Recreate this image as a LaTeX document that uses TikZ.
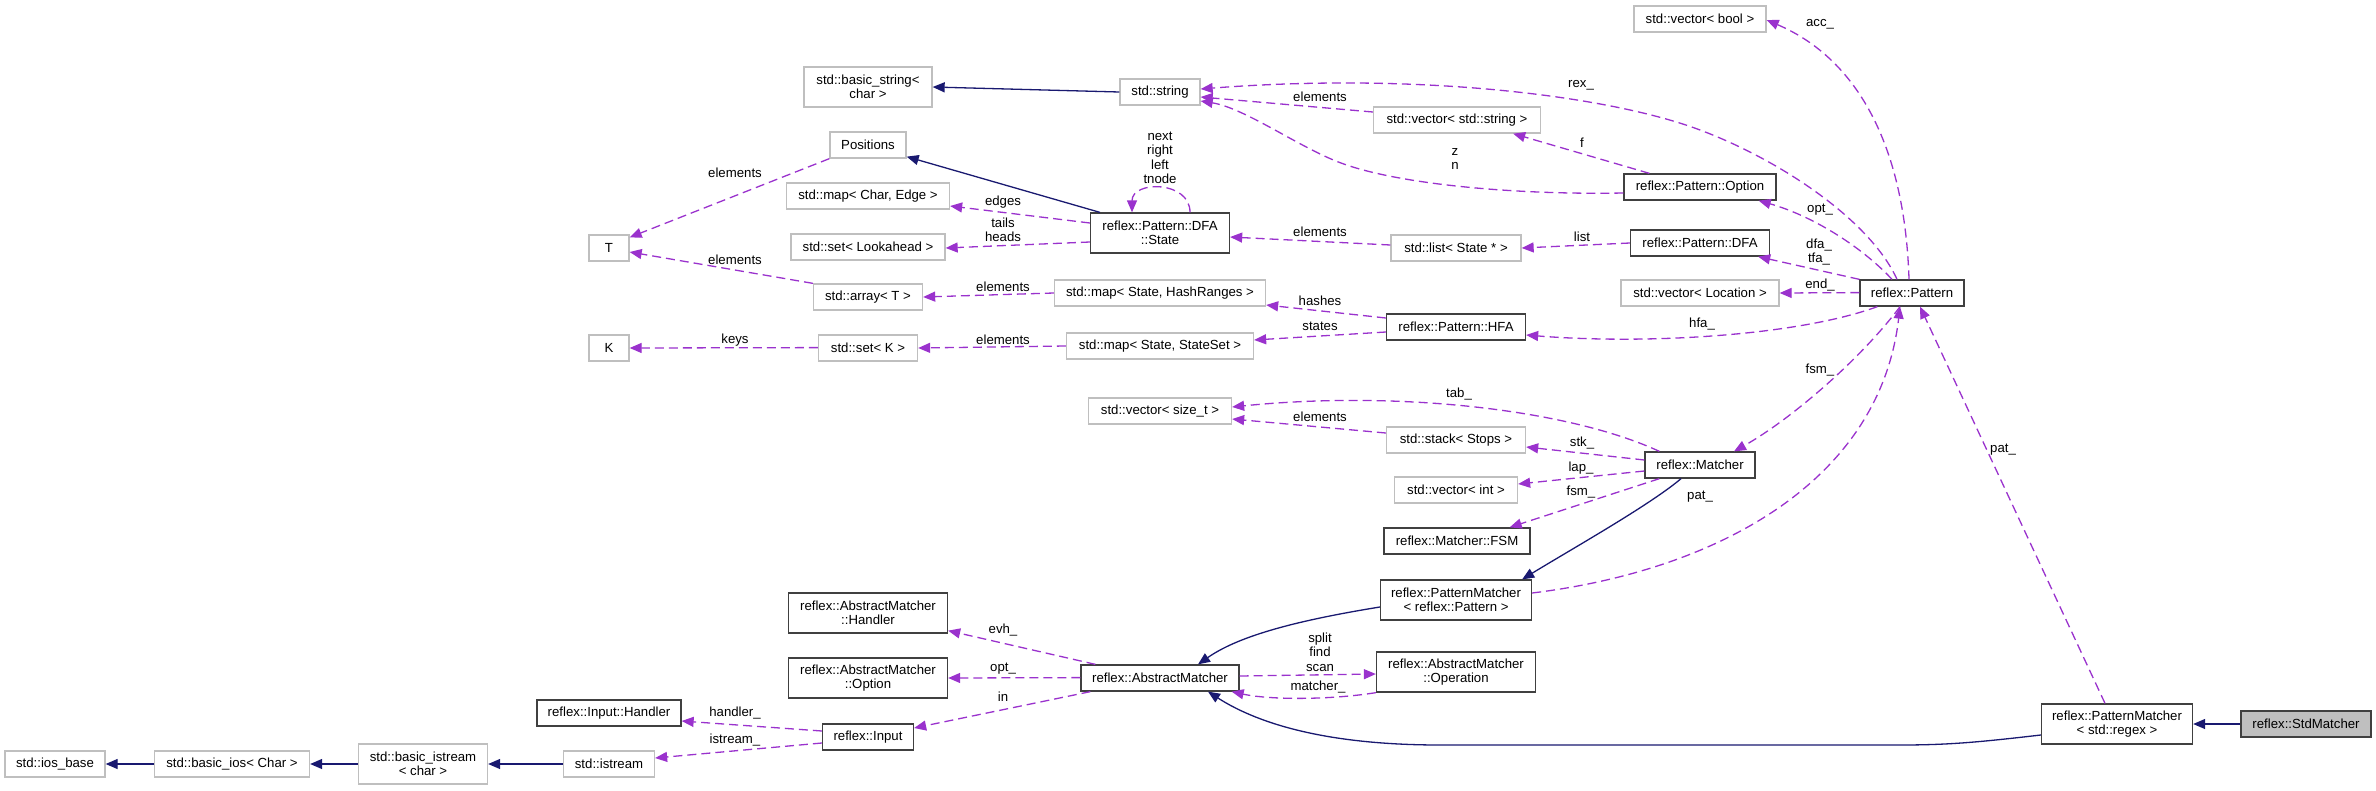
\documentclass[tikz,border=0pt]{standalone}
\usepackage{fontspec}
\setmainfont{Liberation Sans}
\usetikzlibrary{arrows.meta}
\definecolor{usec}{RGB}{154,50,205}
\definecolor{inhc}{RGB}{25,25,112}
\definecolor{gbord}{RGB}{191,191,191}
\definecolor{dbord}{RGB}{64,64,64}
\begin{document}
\begin{tikzpicture}[x=1pt,y=-1pt,
  box/.style={draw, line width=1.3pt, minimum height=26pt, inner sep=0pt, font=\fontsize{13.2}{14}\selectfont, align=center},
  ext/.style={box, draw=gbord},
  doc/.style={box, draw=dbord},
  tall/.style={minimum height=40pt},
  use/.style={draw=usec, line width=1.3pt, dash pattern=on 9pt off 5pt, -{Triangle[length=12pt,width=10pt,fill=usec]}},
  inh/.style={draw=inhc, line width=1.3pt, -{Triangle[length=12pt,width=10pt,fill=inhc]}},
  lbl/.style={font=\fontsize{13.2}{14.5}\selectfont, inner sep=0pt, align=center}
]
\useasboundingbox (0,0) rectangle (2376,790);
% nodes
\node[ext, tall, minimum width=128pt] (bstr) at (868,87) {std::basic\_string<\\char >};
\node[ext, minimum width=80pt] (str) at (1160,92) {std::string};
\node[ext, minimum width=167pt] (vstr) at (1457,120) {std::vector< std::string >};
\node[ext, minimum width=132pt] (vbool) at (1700,19) {std::vector< bool >};
\node[ext, minimum width=76pt] (pos) at (868,145) {Positions};
\node[ext, minimum width=163pt] (mce) at (868,196) {std::map< Char, Edge >};
\node[ext, minimum width=154pt] (sla) at (868,247) {std::set< Lookahead >};
\node[doc, tall, minimum width=139pt] (st) at (1160,233) {reflex::Pattern::DFA\\::State};
\node[ext, minimum width=130pt] (lst) at (1456,248) {std::list< State * >};
\node[ext, minimum width=109pt] (arr) at (868,297) {std::array< T >};
\node[ext, minimum width=211pt] (mhr) at (1160,293) {std::map< State, HashRanges >};
\node[ext, minimum width=99pt] (setk) at (868,348) {std::set< K >};
\node[ext, minimum width=187pt] (mss) at (1160,346) {std::map< State, StateSet >};
\node[doc, minimum width=139pt] (hfa) at (1456,327) {reflex::Pattern::HFA};
\node[ext, minimum width=40pt] (T) at (609,248) {T};
\node[ext, minimum width=40pt] (K) at (609,348) {K};
\node[doc, minimum width=152pt] (popt) at (1700,187) {reflex::Pattern::Option};
\node[doc, minimum width=139pt] (pdfa) at (1700,243) {reflex::Pattern::DFA};
\node[ext, minimum width=158pt] (vloc) at (1700,293) {std::vector< Location >};
\node[doc, minimum width=104pt] (pat) at (1912,293) {reflex::Pattern};
\node[ext, minimum width=143pt] (vst) at (1160,411) {std::vector< size\_t >};
\node[ext, minimum width=139pt] (stk) at (1456,440) {std::stack< Stops >};
\node[ext, minimum width=123pt] (vint) at (1456,490) {std::vector< int >};
\node[doc, minimum width=146pt] (fsm) at (1457,541) {reflex::Matcher::FSM};
\node[doc, minimum width=110pt] (matcher) at (1700,465) {reflex::Matcher};
\node[doc, tall, minimum width=151pt] (pmp) at (1456,600) {reflex::PatternMatcher\\< reflex::Pattern >};
\node[doc, tall, minimum width=159pt] (op) at (1456,672) {reflex::AbstractMatcher\\::Operation};
\node[doc, minimum width=158pt] (am) at (1160,678) {reflex::AbstractMatcher};
\node[doc, tall, minimum width=159pt] (amh) at (868,613) {reflex::AbstractMatcher\\::Handler};
\node[doc, tall, minimum width=159pt] (amo) at (868,678) {reflex::AbstractMatcher\\::Option};
\node[doc, minimum width=91pt] (inp) at (868,737) {reflex::Input};
\node[doc, minimum width=144pt] (ih) at (609,713) {reflex::Input::Handler};
\node[ext, minimum width=100pt] (ios) at (55,764) {std::ios\_base};
\node[ext, minimum width=155pt] (bios) at (232,764) {std::basic\_ios< Char >};
\node[ext, tall, minimum width=129pt] (bis) at (423,764) {std::basic\_istream\\< char >};
\node[ext, minimum width=91pt] (is) at (609,764) {std::istream};
\node[doc, tall, minimum width=151pt] (pmr) at (2117,724) {reflex::PatternMatcher\\< std::regex >};
\node[doc, fill=gbord, minimum width=130pt] (sm) at (2306,724) {reflex::StdMatcher};
% edges
\draw[inh] (str.west) -- (bstr.east);
\draw[inh] ([xshift=10pt]st.north west) -- ([yshift=2pt]pos.south east);
\draw[use] ([yshift=10pt]st.west) -- ([yshift=-10pt]mce.east);
\draw[use] ([yshift=-9pt]st.west) -- ([yshift=-1pt]sla.east);
\draw[use] ([xshift=30pt]st.north) .. controls +(0,-32) and +(0,-32) .. ([xshift=-28pt]st.north);
\draw[use] ([yshift=3pt]lst.west) -- ([yshift=-4pt]st.east);
\draw[use] (pos.south west) -- ([yshift=-3pt]T.north east);
\draw[use] (arr.north west) -- ([yshift=-4pt]T.east);
\draw[use] ([yshift=0.4pt]setk.west) -- (K.east);
\draw[use] (mhr.west) -- (arr.east);
\draw[use] (mss.west) -- (setk.east);
\draw[use] ([yshift=9pt]hfa.west) -- ([yshift=-12pt]mhr.east);
\draw[use] ([yshift=-5pt]hfa.west) -- ([yshift=6pt]mss.east);
\draw[use] ([yshift=8pt]vstr.west) -- ([yshift=-5pt]str.east);
\draw[use] ([yshift=-6pt]popt.west) .. controls (1520,195) and (1400,185) .. (1341,163) .. controls (1300,148) and (1245,108) .. ([yshift=-9pt]str.east);
\draw[use] ([xshift=26pt]popt.north west) -- ([xshift=-28pt]vstr.south east);
\draw[use] ([xshift=-15pt]pat.north) .. controls (1870,220) and (1780,160) .. (1700,130) .. controls (1610,96) and (1420,72) .. ([yshift=3pt]str.east);
\draw[use] ([xshift=-3pt]pat.north) .. controls (1905,150) and (1860,60) .. ([yshift=-1pt]vbool.east);
\draw[use] ([xshift=-20pt]pat.north) .. controls (1860,245) and (1810,215) .. ([xshift=-18pt]popt.south east);
\draw[use] (pat.north west) -- ([xshift=-12pt]pdfa.south east);
\draw[use] ([yshift=0.4pt]pat.west) -- (vloc.east);
\draw[use] (pdfa.west) -- (lst.east);
\draw[use] ([xshift=18pt]pat.south west) .. controls (1800,335) and (1650,345) .. ([yshift=-8pt]hfa.east);
\draw[use] ([xshift=-12pt]pat.south) .. controls (1860,360) and (1790,420) .. ([xshift=34pt]matcher.north);
\draw[use] ([xshift=15pt]matcher.north west) .. controls (1570,410) and (1400,390) .. ([yshift=4pt]vst.east);
\draw[use] ([yshift=7pt]stk.west) -- ([yshift=-8pt]vst.east);
\draw[use] ([yshift=5pt]matcher.west) -- ([yshift=-7pt]stk.east);
\draw[use] ([yshift=-6pt]matcher.west) -- ([yshift=6pt]vint.east);
\draw[use] ([xshift=15pt]matcher.south west) -- ([xshift=-21pt]fsm.north east);
\draw[inh] ([xshift=-19pt]matcher.south) .. controls (1650,505) and (1570,550) .. ([xshift=-10pt]pmp.north east);
\draw[use] ([yshift=7pt]pmp.east) .. controls (1720,570) and (1880,480) .. ([xshift=-12pt]pat.south);
\draw[inh] ([yshift=-7pt]pmp.west) .. controls (1300,620) and (1240,635) .. ([xshift=38pt]am.north);
\draw[inh] ([yshift=-11pt]pmr.west) .. controls (1980,742) and (1950,745) .. (1900,745) -- (1440,745) .. controls (1330,745) and (1260,725) .. ([xshift=48pt]am.south);
\draw[inh] (sm.west) -- (pmr.east);
\draw[use] ([xshift=-12pt]pmr.north) -- ([xshift=8pt]pat.south);
\draw[use] ([xshift=15pt]am.north west) -- ([yshift=3pt]amh.south east);
\draw[use] ([yshift=0.4pt]am.west) -- (amo.east);
\draw[use] ([xshift=10pt]am.south west) -- ([yshift=9pt]inp.east);
\draw[use] ([yshift=2pt]am.east) -- ([yshift=-2pt]op.west);
\draw[use] (op.south west) .. controls (1330,700) and (1270,700) .. ([xshift=-8pt]am.south east);
\draw[use] ([yshift=6pt]inp.west) -- ([yshift=-8pt]ih.east);
\draw[use] ([yshift=-6pt]inp.west) -- ([yshift=6pt]is.east);
\draw[inh] (is.west) -- (bis.east);
\draw[inh] (bis.west) -- (bios.east);
\draw[inh] (bios.west) -- (ios.east);
% labels
\node[lbl] (l1) at (1581,85) {rex\_};
\node[lbl] (l2) at (1320,97) {elements};
\node[lbl] (l3) at (1455,159) {z\\n};
\node[lbl] (l4) at (1582,143) {f};
\node[lbl] (l5) at (1820,24) {acc\_};
\node[lbl] (l6) at (1820,210) {opt\_};
\node[lbl] (l7) at (1819,252) {dfa\_\\tfa\_};
\node[lbl] (l8) at (1820,285) {end\_};
\node[lbl] (l9) at (1702,324) {hfa\_};
\node[lbl] (l10) at (1582,237) {list};
\node[lbl] (l11) at (1320,232) {elements};
\node[lbl] (l12) at (1160,158) {next\\right\\left\\tnode};
\node[lbl] (l13) at (1003,202) {edges};
\node[lbl] (l14) at (1003,230) {tails\\heads};
\node[lbl] (l15) at (735,173) {elements};
\node[lbl] (l16) at (735,260) {elements};
\node[lbl] (l17) at (735,340) {keys};
\node[lbl] (l18) at (1003,287) {elements};
\node[lbl] (l19) at (1003,340) {elements};
\node[lbl] (l20) at (1320,301) {hashes};
\node[lbl] (l21) at (1320,326) {states};
\node[lbl] (l22) at (1459,394) {tab\_};
\node[lbl] (l23) at (1320,417) {elements};
\node[lbl] (l24) at (1582,443) {stk\_};
\node[lbl] (l25) at (1581,468) {lap\_};
\node[lbl] (l26) at (1581,492) {fsm\_};
\node[lbl] (l27) at (1820,370) {fsm\_};
\node[lbl] (l28) at (1700,497) {pat\_};
\node[lbl] (l29) at (2003,450) {pat\_};
\node[lbl] (l30) at (1003,630) {evh\_};
\node[lbl] (l31) at (1003,669) {opt\_};
\node[lbl] (l32) at (1003,697) {in};
\node[lbl] (l33) at (1320,652) {split\\find\\scan};
\node[lbl] (l34) at (1318,687) {matcher\_};
\node[lbl] (l35) at (735,713) {handler\_};
\node[lbl] (l36) at (735,740) {istream\_};
\end{tikzpicture}
\end{document}
